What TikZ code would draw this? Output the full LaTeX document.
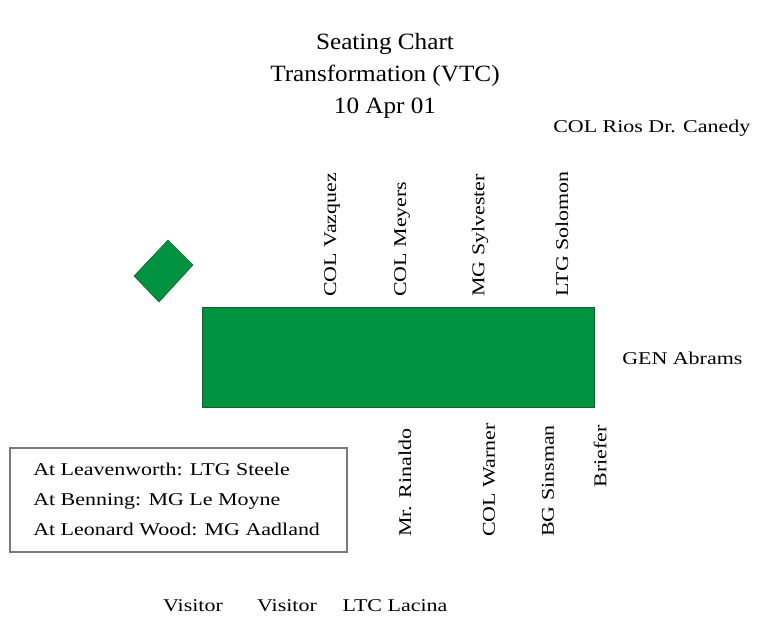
\documentclass[tikz,border=0pt]{standalone}
\usepackage{fontspec}
\setmainfont{Liberation Serif}
\newfontfamily\seatfont[FakeStretch=1.22]{Liberation Serif}
\newfontfamily\titlefont[FakeStretch=1.08]{Liberation Serif}
\usetikzlibrary{positioning}
\definecolor{TableGreen}{RGB}{0, 146, 63}
\definecolor{EdgeGreen}{RGB}{20, 95, 50}
\definecolor{BoxGray}{RGB}{120, 120, 120}
\tikzset{
  seat/.style={inner sep=0pt, font=\seatfont\fontsize{13.5}{15}\selectfont},
  upseat/.style={seat, rotate=90, anchor=west},
  downseat/.style={seat, rotate=90, anchor=west},
}

\begin{document}
\begin{tikzpicture}[x=0.75pt, y=-0.75pt]
  \useasboundingbox (0, 0) rectangle (761, 619);

  % Title
  \node[align=center, font=\titlefont\fontsize{17.5}{24}\selectfont] (title) at (385, 76)
    {Seating Chart\\Transformation (VTC)\\10 Apr 01};
  \node[seat, anchor=west] (rios) at (553, 128) {COL Rios Dr. Canedy};

  % Table and remote site marker
  \draw[EdgeGreen, fill=TableGreen] (202, 307) rectangle (594, 407);
  \coordinate (table) at (398, 357);
  \draw[EdgeGreen, fill=TableGreen] (168, 240) -- (193, 265) -- (159, 302) -- (134, 276) -- cycle;

  % Seats above the table
  \node[upseat] (vazquez) at (332, 297) {COL Vazquez};
  \node[upseat] (meyers) at (402, 297) {COL Meyers};
  \node[upseat] (sylvester) at (480, 297) {MG Sylvester};
  \node[upseat] (solomon) at (562, 297) {LTG Solomon};

  % Head of table
  \node[seat, anchor=west] (gen) at (622, 358) {GEN Abrams};

  % Seats below the table
  \node[downseat] (rinaldo) at (405, 537) {Mr. Rinaldo};
  \node[downseat] (warner) at (489, 537) {COL Warner};
  \node[downseat] (sinsman) at (548, 537) {BG Sinsman};
  \node[seat, rotate=90, anchor=east] (briefer) at (600, 425) {Briefer};

  % Remote sites
  \draw[BoxGray, line width=1pt] (10, 448) rectangle (347, 552);
  \node[seat, anchor=west, align=left, font=\seatfont\fontsize{13.5}{22.5}\selectfont] (remote) at (33, 499)
    {At Leavenworth: LTG Steele\\At Benning: MG Le Moyne\\At Leonard Wood: MG Aadland};

  % Back row
  \node[seat] (visitorA) at (193, 606) {Visitor};
  \node[seat] (visitorB) at (287, 606) {Visitor};
  \node[seat] (lacina) at (395, 606) {LTC Lacina};
\end{tikzpicture}
\end{document}
